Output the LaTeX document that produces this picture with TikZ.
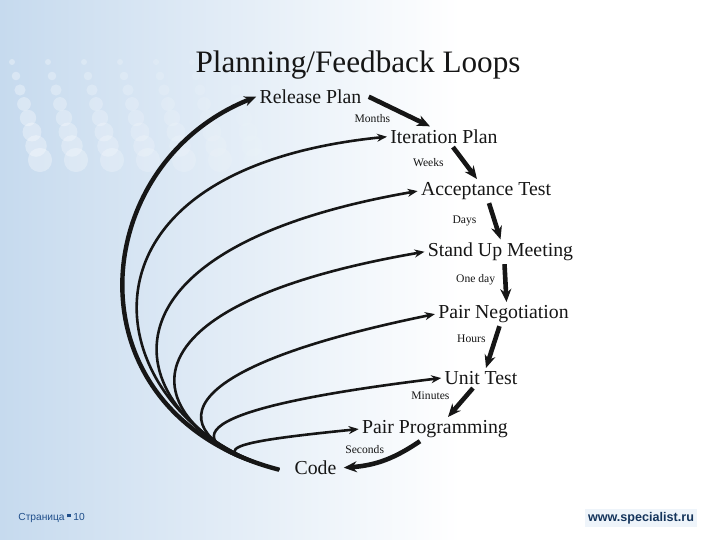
\documentclass[tikz,border=0pt]{standalone}
\usepackage{fontspec}
\setmainfont{Liberation Serif}
\newfontfamily\piefont{Liberation Sans}
\usetikzlibrary{arrows.meta}
\definecolor{tinta}{HTML}{161616}
\definecolor{fondo}{HTML}{C6DAEE}
\definecolor{azulpie}{HTML}{1F4E8A}
\definecolor{azulweb}{HTML}{15355C}
\definecolor{resalte}{HTML}{EEF4FA}

\begin{document}
\begin{tikzpicture}[
  x=0.5pt, y=-0.5pt,
  paso/.style={anchor=base, inner sep=1.5pt, text=tinta, font=\fontsize{9.9}{11}\selectfont},
  tiempo/.style={inner sep=0.5pt, text=tinta, font=\fontsize{5.8}{6.5}\selectfont},
  lazo/.style={line width=1.3pt, tinta, -{Stealth[length=5pt,width=4pt]}},
  baja/.style={line width=2.3pt, tinta, -{Stealth[length=6.5pt,width=5.5pt]}}
]
  \useasboundingbox (0,0) rectangle (720,540);
  % fondo de la diapositiva
  \fill[white] (0,0) rectangle (720,540);
  \shade[left color=fondo, right color=white] (0,0) rectangle (460,540);
  \foreach \j in {0,...,7}
    \foreach \i in {0,...,6} {
      \pgfmathsetmacro{\opac}{0.32-0.042*\i}
      \fill[white, opacity=\opac] ({12+36*\i+4*\j},{62+14*\j}) circle[radius={3+1.3*\j}];
    }

  \node[anchor=base, text=tinta, font=\fontsize{15.6}{18}\selectfont] (titulo) at (358,72.4) {Planning/Feedback Loops};

  \node[paso] (rel) at (310.5,103.5) {Release Plan};
  \node[paso] (ite) at (444,143.5) {Iteration Plan};
  \node[paso] (acc) at (486,195.5) {Acceptance Test};
  \node[paso] (sum) at (500.5,256.5) {Stand Up Meeting};
  \node[paso] (neg) at (503.5,318.5) {Pair Negotiation};
  \node[paso] (uni) at (481,384.5) {Unit Test};
  \node[paso] (par) at (435,433.5) {Pair Programming};
  \node[paso] (cod) at (315.5,474.5) {Code};
  \coordinate (raiz) at ([xshift=-6pt,yshift=-1pt]cod.west);

  % cadena de planificacion
  \draw[baja] ([xshift=2pt]rel.east) -- ([xshift=-7pt]ite.north)
    node[tiempo, midway, anchor=north east, xshift=-3pt] {Months};
  \draw[baja] ([xshift=4.5pt]ite.south) -- ([xshift=-4.5pt]acc.north)
    node[tiempo, midway, anchor=east, xshift=-9pt] {Weeks};
  \draw[baja] ([xshift=1.5pt]acc.south) -- (sum.north)
    node[tiempo, midway, anchor=east, xshift=-7.5pt] {Days};
  \draw[baja] ([xshift=2pt]sum.south) -- ([xshift=1.5pt]neg.north)
    node[tiempo, midway, anchor=east, xshift=-3.5pt, yshift=1.5pt] {One day};
  \draw[baja] ([xshift=-2pt]neg.south) -- ([xshift=2.5pt]uni.north)
    node[tiempo, pos=0.27, anchor=east, xshift=-3.5pt, yshift=-0.5pt] {Hours};
  \draw[baja] ([xshift=-4pt]uni.south) -- ([xshift=6.5pt]par.north)
    node[tiempo, pos=0.25, anchor=east, xshift=-7pt] {Minutes};
  \draw[baja] ([xshift=-7.5pt]par.south) to[bend left=15]
    node[tiempo, pos=0.6, anchor=south, xshift=-6pt, yshift=3pt] {Seconds} ([xshift=2pt]cod.east);

  % lazos de retroalimentacion
  \draw[lazo, line width=2.2pt, -{Stealth[length=6pt,width=5pt]}]
    (raiz) .. controls +(-213.4,-55) and +(-172,68.5) .. (rel.west);
  \draw[lazo] (raiz) .. controls +(-174.6,-45) and +(-346.5,35) .. (ite.west);
  \draw[lazo] (raiz) .. controls +(-145.5,-37.5) and +(-362.6,62.9) .. (acc.west);
  \draw[lazo] (raiz) .. controls +(-126,-32.5) and +(-343,59) .. (sum.west);
  \draw[lazo] (raiz) .. controls +(-106.7,-27.5) and +(-299,61) .. (neg.west);
  \draw[lazo] (raiz) .. controls +(-97,-25) and +(-278,33.7) .. (uni.west);
  \draw[lazo] (raiz) .. controls +(-77.6,-20) and +(-134.3,13.5) .. (par.west);

  \node[anchor=west, inner sep=0.5pt, text=azulpie, font=\piefont\fontsize{5.1}{6}\selectfont] (pagina) at (17,518)
    {Страница \raisebox{1.6pt}{\rule{1.6pt}{1.6pt}} 10};
  \node[fill=resalte, inner sep=1.5pt, text=azulweb, font=\piefont\bfseries\fontsize{6.3}{7}\selectfont] (web) at (641,518)
    {www.specialist.ru};
\end{tikzpicture}
\end{document}
